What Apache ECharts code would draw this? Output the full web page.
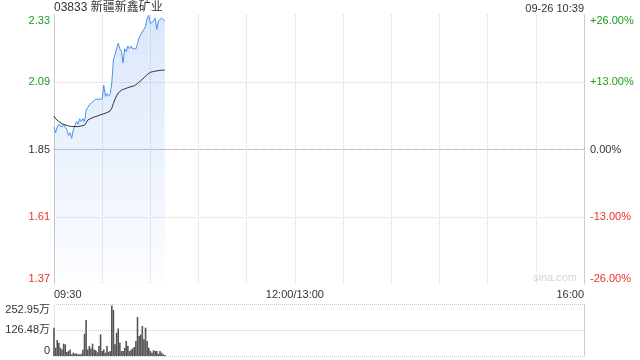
<!DOCTYPE html>
<html><head><meta charset="utf-8">
<script src="https://cdn.jsdelivr.net/npm/echarts@6/dist/echarts.min.js"></script>
<style>html,body{margin:0;padding:0;background:#fff}#c{width:640px;height:360px}</style>
</head><body><div id="c"></div>
<script>
const stockTitle = '03833 新疆新鑫矿业';
const timeStamp = '09-26 10:39';
const watermark = 'sina.com';
const prevClose = 1.85;
const priceTicks = ['1.37', '1.61', '1.85', '2.09', '2.33'];
const pctTicks = ['-26.00%', '-13.00%', '0.00%', '+13.00%', '+26.00%'];
const volTicks = ['0', '126.48万', '252.95万'];
const volMax = 252.95;
const timeLabelPos = [0, 150, 330];
const timeLabels = ['09:30', '12:00/13:00', '16:00'];

// minute-by-minute from 09:30
const prices = [
  1.93, 1.91, 1.93, 1.94, 1.94, 1.93, 1.94, 1.93, 1.92, 1.90,
  1.91, 1.89, 1.92, 1.92, 1.95, 1.94, 1.96, 1.95, 1.96, 1.95,
  1.99, 2.00, 2.01, 2.01, 2.02, 2.02, 2.03, 2.03, 2.03, 2.03,
  2.03, 2.08, 2.04, 2.05, 2.04, 2.05, 2.09, 2.17, 2.19, 2.21,
  2.23, 2.21, 2.20, 2.16, 2.21, 2.20, 2.22, 2.21, 2.22, 2.21,
  2.21, 2.21, 2.23, 2.25, 2.25, 2.27, 2.28, 2.29, 2.32, 2.33,
  2.30, 2.30, 2.31, 2.32, 2.28, 2.31, 2.31, 2.32, 2.32, 2.31
];
const avgPrices = [
  1.970, 1.960, 1.955, 1.950, 1.945, 1.942, 1.940, 1.938, 1.936, 1.934,
  1.933, 1.932, 1.932, 1.932, 1.932, 1.932, 1.933, 1.934, 1.935, 1.937,
  1.945, 1.955, 1.958, 1.961, 1.964, 1.966, 1.968, 1.970, 1.972, 1.974,
  1.976, 1.978, 1.980, 1.982, 1.984, 1.988, 1.998, 2.015, 2.030, 2.042,
  2.052, 2.058, 2.062, 2.064, 2.067, 2.069, 2.071, 2.073, 2.075, 2.076,
  2.078, 2.080, 2.086, 2.092, 2.096, 2.100, 2.106, 2.112, 2.118, 2.123,
  2.126, 2.128, 2.129, 2.130, 2.131, 2.132, 2.133, 2.133, 2.134, 2.134
];
// volume in 万
const volumes = [
  138, 40, 78, 65, 40, 32, 60, 57, 20, 24,
  32, 8, 16, 11, 13, 8, 8, 10, 30, 108,
  175, 32, 49, 37, 60, 32, 28, 18, 49, 105,
  24, 32, 16, 49, 20, 24, 246, 224, 57, 113,
  134, 65, 24, 24, 40, 73, 49, 24, 30, 37,
  44, 73, 190, 97, 105, 146, 81, 138, 73, 40,
  24, 16, 28, 24, 24, 11, 24, 16, 8, 5
];

const RED = '#e8322b', GREEN = '#1a9e1a', BLACK = '#333';
const tickColors = [RED, RED, BLACK, GREEN, GREEN];
const FONT = 'Arial, "Liberation Sans", "Noto Sans CJK SC", sans-serif';
const pctIdx = v => Math.round(Number(v) / 13) + 2;

const pctData = prices.map((p, i) => [i, (p / prevClose - 1) * 100]);
const avgData = avgPrices.map((p, i) => [i, (p / prevClose - 1) * 100]);
const volData = volumes.map((v, i) => [i, v]);

const chart = echarts.init(document.getElementById('c'), null, {renderer: 'canvas'});
chart.setOption({
  animation: false,
  textStyle: {fontFamily: FONT},
  title: [
    {text: stockTitle, left: 54, top: 2, padding: 0,
     textStyle: {fontSize: 12, fontWeight: 'normal', color: '#333', fontFamily: FONT}},
    {text: timeStamp, right: 56, top: 3, padding: 0,
     textStyle: {fontSize: 11, fontWeight: 'normal', color: '#333', fontFamily: FONT}}
  ],
  graphic: [
    {type: 'text', left: 533, top: 272, silent: true,
     style: {text: watermark, fill: '#d4d4d4', font: '11px ' + FONT}}
  ],
  grid: [
    {left: 54, right: 56, top: 15, height: 269},
    {left: 54, right: 56, top: 304, height: 52}
  ],
  xAxis: [
    {gridIndex: 0, type: 'value', min: 0, max: 330, interval: 30,
     axisLine: {show: true, lineStyle: {color: '#ccc'}},
     axisTick: {show: false},
     axisLabel: {
       color: '#333', fontSize: 11, margin: 5, fontFamily: FONT,
       alignMinLabel: 'left', alignMaxLabel: 'right',
       formatter: v => { const k = timeLabelPos.indexOf(Math.round(v)); return k >= 0 ? timeLabels[k] : ''; }
     },
     splitLine: {show: true, lineStyle: {color: '#d6d6d6', type: 'dotted'}}
    },
    {gridIndex: 1, type: 'value', min: 0, max: 330, show: false}
  ],
  yAxis: [
    {gridIndex: 0, type: 'value', position: 'left', min: -26, max: 26, interval: 13,
     axisLine: {show: true, lineStyle: {color: '#ccc'}},
     axisTick: {show: false},
     axisLabel: {
       fontSize: 11, margin: 4, fontFamily: FONT,
       verticalAlignMinLabel: 'bottom', verticalAlignMaxLabel: 'top',
       formatter: v => priceTicks[pctIdx(v)],
       color: v => tickColors[pctIdx(v)]
     },
     splitLine: {show: true, showMinLine: false, showMaxLine: false,
                 lineStyle: {color: '#d6d6d6', type: 'dotted'}}
    },
    {gridIndex: 0, type: 'value', position: 'right', min: -26, max: 26, interval: 13,
     axisLine: {show: true, lineStyle: {color: '#ccc'}},
     axisTick: {show: false},
     axisLabel: {
       fontSize: 11, margin: 6, fontFamily: FONT,
       verticalAlignMinLabel: 'bottom', verticalAlignMaxLabel: 'top',
       formatter: v => pctTicks[pctIdx(v)],
       color: v => tickColors[pctIdx(v)]
     },
     splitLine: {show: false}
    },
    {gridIndex: 1, type: 'value', position: 'left', min: 0, max: volMax, interval: volMax / 2,
     axisLine: {show: true, lineStyle: {color: '#e2e2e2'}},
     axisTick: {show: false},
     axisLabel: {
       fontSize: 11, margin: 4, color: '#333', fontFamily: FONT,
       verticalAlignMinLabel: 'bottom', verticalAlignMaxLabel: 'top',
       formatter: (v, i) => volTicks[Math.round(v / (volMax / 2))]
     },
     splitLine: {show: true, lineStyle: {color: '#c8c8c8', type: 'dotted', width: 1}}
    },
    {gridIndex: 1, type: 'value', position: 'right', min: 0, max: volMax, interval: volMax / 2,
     axisLine: {show: true, lineStyle: {color: '#ccc'}},
     axisTick: {show: false}, axisLabel: {show: false}, splitLine: {show: false}
    }
  ],
  series: [
    {type: 'line', xAxisIndex: 0, yAxisIndex: 0, data: pctData, symbol: 'none',
     lineStyle: {color: '#4d8ff0', width: 1},
     areaStyle: {origin: 'start', color: new echarts.graphic.LinearGradient(0, 0, 0, 1, [
       {offset: 0, color: 'rgba(80,140,235,0.30)'},
       {offset: 1, color: 'rgba(80,140,235,0.02)'}
     ])},
     markLine: {silent: true, symbol: 'none', label: {show: false},
       lineStyle: {color: '#bbb', type: [4, 4], width: 1},
       data: [{yAxis: 0}]}
    },
    {type: 'line', xAxisIndex: 0, yAxisIndex: 0, data: avgData, symbol: 'none',
     lineStyle: {color: '#333', width: 1}},
    {type: 'bar', xAxisIndex: 1, yAxisIndex: 2, data: volData, barWidth: 1.6,
     itemStyle: {color: '#555'}}
  ]
});
</script></body></html>
